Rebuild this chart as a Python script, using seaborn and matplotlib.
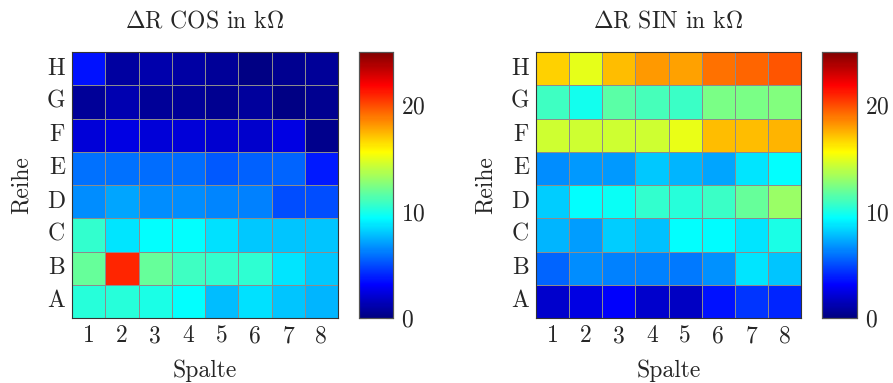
import numpy as np
import pandas as pd
import matplotlib
matplotlib.use("Agg")
import matplotlib.pyplot as plt
from matplotlib.colors import LinearSegmentedColormap
import seaborn as sns

sns.set_theme(style="white")
plt.rcParams['font.family'] = ['cmr10', 'DejaVu Serif']
plt.rcParams['mathtext.fontset'] = 'cm'
plt.rcParams['axes.formatter.use_mathtext'] = True
FS = 17
plt.rcParams['font.size'] = FS

columns = ["1", "2", "3", "4", "5", "6", "7", "8"]
rows = ["H", "G", "F", "E", "D", "C", "B", "A"]

cos_H = [3.6, 0.8, 1.1, 0.9, 0.6, 0.1, 0.4, 0.6]
cos_G = [0.6, 1.2, 0.6, 0.6, 0.4, 0.7, 0.1, 0.4]
cos_F = [2.2, 2.5, 2.2, 2.2, 2.0, 1.9, 2.5, 0.3]
cos_E = [5.9, 5.9, 5.8, 5.8, 5.3, 5.5, 5.6, 3.8]
cos_D = [6.6, 7.2, 6.6, 6.6, 6.4, 6.25, 5.0, 5.0]
cos_C = [10.6, 8.75, 9.4, 9.4, 8.6, 8.1, 8.0, 8.0]
cos_B = [11.9, 20.9, 11.9, 10.9, 10.6, 10.5, 8.75, 8.1]
cos_A = [10.3, 10.3, 10.0, 9.4, 7.8, 8.6, 8.0, 7.6]

sin_H = [16.7, 15.0, 17.2, 18.1, 17.9, 19.1, 19.4, 19.8]
sin_G = [10.9, 9.8, 11.6, 11.1, 10.8, 12.4, 12.4, 12.5]
sin_F = [14.4, 14.4, 14.4, 14.4, 15.1, 17.2, 17.2, 17.4]
sin_E = [6.6, 6.9, 6.9, 8.1, 7.6, 7.2, 8.75, 9.4]
sin_D = [8.2, 9.4, 9.6, 10.6, 10.3, 10.8, 11.9, 13.1]
sin_C = [7.6, 7.0, 8.2, 7.9, 9.4, 9.3, 8.75, 10.0]
sin_B = [5.6, 6.6, 6.25, 6.25, 6.1, 6.7, 8.75, 8.0]
sin_A = [1.9, 2.5, 3.1, 1.9, 1.75, 3.6, 4.4, 4.1]

cos_df = pd.DataFrame([cos_H, cos_G, cos_F, cos_E, cos_D, cos_C, cos_B, cos_A],
                      index=rows, columns=columns)
sin_df = pd.DataFrame([sin_H, sin_G, sin_F, sin_E, sin_D, sin_C, sin_B, sin_A],
                      index=rows, columns=columns)

# pgfplots-style jet colormap
pgf_jet = LinearSegmentedColormap.from_list("pgfjet", [
    (0.0, (0, 0, 0.5)), (0.125, (0, 0, 1)), (0.375, (0, 1, 1)),
    (0.625, (1, 1, 0)), (0.875, (1, 0, 0)), (1.0, (0.5, 0, 0))])

fig = plt.figure(figsize=(8.93, 3.83), dpi=100)
W, H = 893, 383

def fa(x0, y0, x1, y1):
    return [x0 / W, 1 - y1 / H, (x1 - x0) / W, (y1 - y0) / H]

ax1 = fig.add_axes(fa(72, 52, 338, 318))
cax1 = fig.add_axes(fa(359, 52, 393, 318))
ax2 = fig.add_axes(fa(536, 52, 801, 318))
cax2 = fig.add_axes(fa(822, 52, 857, 318))

for ax, cax, df, title in [(ax1, cax1, cos_df, r'$\Delta$R COS in k$\Omega$'),
                           (ax2, cax2, sin_df, r'$\Delta$R SIN in k$\Omega$')]:
    sns.heatmap(df, ax=ax, cbar_ax=cax, cmap=pgf_jet, vmin=0, vmax=25,
                linewidths=0.6, linecolor='#8c8c8c', square=False)
    ax.set_title(title, fontsize=FS, pad=18)
    ax.set_xlabel("Spalte", fontsize=FS, labelpad=9)
    ax.set_ylabel("Reihe", fontsize=FS, labelpad=10)
    ax.tick_params(axis='both', direction='in', color='#8c8c8c', length=5, width=0.8,
                   top=True, right=True, bottom=True, left=True,
                   labeltop=False, labelright=False, labelsize=FS, pad=5)
    ax.set_yticklabels(rows, rotation=0)
    ax.set_xticklabels(columns, rotation=0)
    for sp in ax.spines.values():
        sp.set_visible(True)
        sp.set_color('#333333')
        sp.set_linewidth(0.8)
    cax.set_yticks([0, 10, 20])
    cax.tick_params(axis='y', direction='in', color='#8c8c8c', length=5, width=0.8,
                    left=True, right=True, labelsize=FS, pad=6)
    for sp in cax.spines.values():
        sp.set_visible(True)
        sp.set_color('#555555')
        sp.set_linewidth(0.8)

fig.savefig("out.png", dpi=100)
